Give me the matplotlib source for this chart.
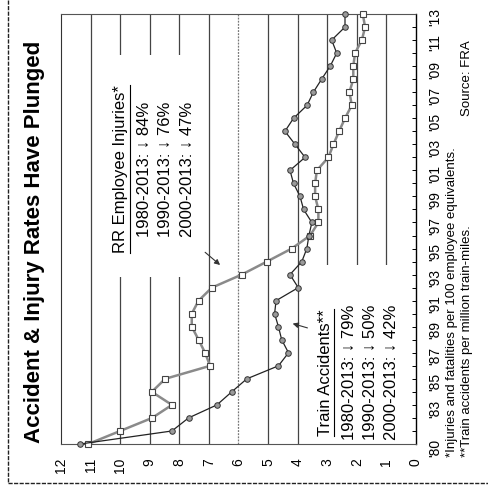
import matplotlib
matplotlib.use('Agg')
import matplotlib.pyplot as plt
from matplotlib.lines import Line2D
from matplotlib.patches import Rectangle

plt.rcParams['font.family'] = ['Liberation Sans', 'DejaVu Sans']

years = list(range(1980, 2014))

# train accidents per million train-miles
train_accidents = [11.35, 8.25, 7.69, 6.73, 6.23, 5.72, 4.65, 4.31, 4.54, 4.65,
                   4.78, 4.73, 3.98, 4.26, 3.86, 3.69, 3.62, 3.52, 3.80, 3.92,
                   4.14, 4.26, 3.75, 4.09, 4.43, 4.14, 3.68, 3.47, 3.19, 2.90,
                   2.68, 2.85, 2.40, 2.40]

# employee injuries and fatalities per 100 employee equivalents
employee_injuries = [11.08, 10.00, 8.92, 8.25, 8.93, 8.48, 6.96, 7.13, 7.35, 7.58,
                     7.58, 7.35, 6.90, 5.89, 5.04, 4.20, 3.58, 3.30, 3.30, 3.41,
                     3.41, 3.35, 2.96, 2.79, 2.60, 2.40, 2.17, 2.25, 2.12, 2.12,
                     2.06, 1.83, 1.72, 1.80]

year_ticks = [1980, 1983] + list(range(1985, 2014, 2))
year_labels = ["'%02d" % (y % 100) for y in year_ticks]
value_ticks = list(range(0, 13))

rr_lines = ['1980-2013: \u2193 84%', '1990-2013: \u2193 76%', '2000-2013: \u2193 47%']
ta_lines = ['1980-2013: \u2193 79%', '1990-2013: \u2193 50%', '2000-2013: \u2193 42%']

W, H = 489, 491


def fx(x):
    return x / W


def fy(y):
    return 1 - y / H


fig = plt.figure(figsize=(W / 100, H / 100), dpi=100)
ax = fig.add_axes([fx(61), fy(444), fx(416) - fx(61), fy(14) - fy(444)])

# the chart is laid on its side: values run right-to-left, years run upward
ax.set_xlim(12, 0)
ax.set_ylim(1980, 2013)

for v in [11, 10, 9, 8, 7, 5, 4, 3, 2, 1]:
    ax.axvline(v, color='#444444', lw=0.9, zorder=1)
ax.axvline(6, color='#777777', lw=0.9, ls=(0, (1.5, 1)), zorder=1)

# blank panels behind the two legend blocks
for x0, y0, x1, y1 in [(100, 55, 196, 277), (313, 265, 405, 444)]:
    ax.add_patch(Rectangle((fx(x0), fy(y1)), fx(x1) - fx(x0), fy(y0) - fy(y1),
                           transform=fig.transFigure, fc='white', ec='none',
                           zorder=2))

ax.plot(employee_injuries, years, marker='s', ms=5, mfc='white', mec='#444444',
        mew=0.8, color='#8a8a8a', lw=1.8, zorder=3, clip_on=False)
ax.plot(train_accidents, years, marker='o', ms=4, mfc='#9a9a9a', mec='#333333',
        mew=0.7, color='#222222', lw=0.9, zorder=4, clip_on=False)

arrow = dict(arrowstyle='-|>', color='#333333', lw=0.8, mutation_scale=8)
ax.annotate('', xy=(6.55, 1993.6), xytext=(7.2, 1994.85), arrowprops=arrow, zorder=5)
ax.annotate('', xy=(4.26, 1989.3), xytext=(3.58, 1988.85), arrowprops=arrow, zorder=5)

ax.yaxis.tick_right()
ax.set_yticks(year_ticks)
ax.set_yticklabels(year_labels)
ax.set_yticks(years, minor=True)
ax.tick_params(axis='y', which='both', direction='in', length=3, width=0.7,
               labelrotation=90, labelsize=10, pad=9)

ax.set_xticks(value_ticks)
ax.set_xticklabels([str(v) for v in value_ticks])
ax.tick_params(axis='x', length=0, labelrotation=90, labelsize=10, pad=10)

ax.spines['left'].set_color('#333333')
ax.spines['right'].set_linewidth(1.0)
ax.spines['top'].set_linestyle((0, (1, 1)))
ax.spines['top'].set_color('#555555')
ax.spines['bottom'].set_color('#555555')
ax.spines['bottom'].set_linewidth(0.8)

fig.text(fx(35), fy(443), 'Accident & Injury Rates Have Plunged', rotation=90,
         ha='center', va='bottom', fontsize=16, fontweight='bold')

rr_head = fig.text(fx(121), fy(253), 'RR Employee Injuries*', rotation=90,
                   ha='center', va='bottom', fontsize=12)
for i, s in enumerate(rr_lines):
    fig.text(fx(144 + 21.5 * i), fy(237), s, rotation=90, ha='center',
             va='bottom', fontsize=12)

ta_head = fig.text(fx(326), fy(436), 'Train Accidents**', rotation=90,
                   ha='center', va='bottom', fontsize=12)
for i, s in enumerate(ta_lines):
    fig.text(fx(349 + 21 * i), fy(440), s, rotation=90, ha='center',
             va='bottom', fontsize=12)

fig.text(fx(452), fy(457), '*Injuries and fatalities per 100 employee equivalents.',
         rotation=90, ha='center', va='bottom', fontsize=9.5)
fig.text(fx(467), fy(457), '**Train accidents per million train-miles.',
         rotation=90, ha='center', va='bottom', fontsize=9.5)
fig.text(fx(467), fy(40), 'Source: FRA', rotation=90, ha='center', va='top',
         fontsize=9.5)

# underline the two legend headings
fig.canvas.draw()
for t in (rr_head, ta_head):
    bb = t.get_window_extent()
    ux = (bb.x1 + 1) / W
    fig.add_artist(Line2D([ux, ux], [bb.y0 / H, bb.y1 / H], color='black', lw=0.8))

# page border
border = dict(color='#222222', lw=1.0, ls=(0, (3, 1)))
fig.add_artist(Line2D([fx(8), fx(8)], [fy(0), fy(483)], **border))
fig.add_artist(Line2D([fx(8), fx(489)], [fy(483), fy(483)], **border))

fig.savefig('out.png', dpi=100)
